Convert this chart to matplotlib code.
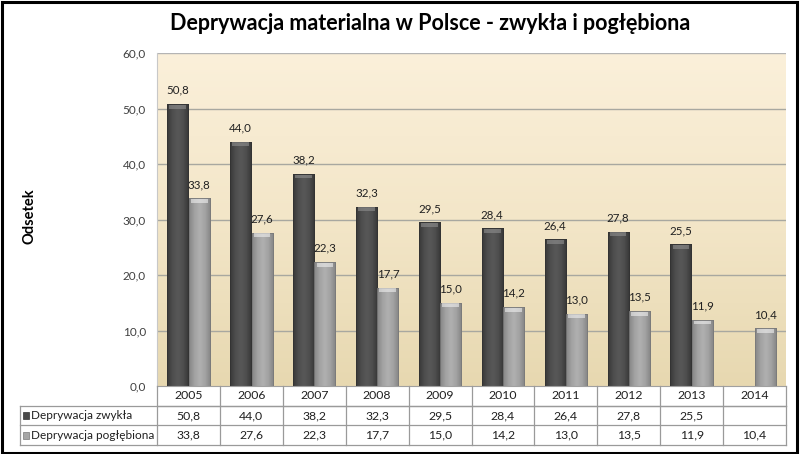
import numpy as np
import matplotlib
matplotlib.use("Agg")
import matplotlib.pyplot as plt
from matplotlib.colors import LinearSegmentedColormap
from matplotlib.patches import Rectangle
from matplotlib.lines import Line2D

plt.rcParams['font.family'] = ['Lato', 'DejaVu Sans']

# ---- data ----
years = ['2005', '2006', '2007', '2008', '2009', '2010', '2011', '2012', '2013', '2014']
zwykla = [50.8, 44.0, 38.2, 32.3, 29.5, 28.4, 26.4, 27.8, 25.5, np.nan]
poglebiona = [33.8, 27.6, 22.3, 17.7, 15.0, 14.2, 13.0, 13.5, 11.9, 10.4]
series_names = ['Deprywacja zwykła', 'Deprywacja pogłębiona']
title = 'Deprywacja materialna w Polsce - zwykła i pogłębiona'
ylabel = 'Odsetek'
yticks = [0, 10, 20, 30, 40, 50, 60]


def fmt(v):
    return '' if np.isnan(v) else f'{v:.1f}'.replace('.', ',')


W, H = 800, 454
fig = plt.figure(figsize=(W / 100, H / 100), dpi=100)
fig.patch.set_facecolor('white')

fig.add_artist(Rectangle((0.002, 0.003), 0.994, 0.993, transform=fig.transFigure,
                         fill=False, edgecolor='black', linewidth=2.2))

L, R, T, B = 157, 786, 53, 386
ax = fig.add_axes([L / W, 1 - B / H, (R - L) / W, (B - T) / H])

n = len(years)
x = np.arange(n)
bw = 0.335
off = 0.17

ax.set_xlim(-0.5, n - 0.5)
ax.set_ylim(0, 60)

bg = LinearSegmentedColormap.from_list('bg', ['#e7d8b0', '#f3e6c8', '#fbf0da'])
grad = np.linspace(0, 1, 256).reshape(-1, 1)
ax.imshow(grad, aspect='auto', cmap=bg, origin='lower',
          extent=[-0.5, n - 0.5, 0, 60], zorder=0)

for yt in yticks[1:-1]:
    ax.axhline(yt, color='#a8a8a0', linewidth=1.0, zorder=1)
ax.axhline(60, color='#b4b4b4', linewidth=1.0, zorder=1)

cmap_dark = LinearSegmentedColormap.from_list('d', ['#383838', '#4e4e4e', '#585858', '#4e4e4e', '#363636'])
cmap_light = LinearSegmentedColormap.from_list('l', ['#858585', '#a2a2a2', '#b0b0b0', '#a2a2a2', '#848484'])
hgrad = np.linspace(0, 1, 64).reshape(1, -1)


def draw_bars(xpos, vals, cmap, topcol, edge):
    bars = ax.bar(xpos, vals, width=bw, color='none', edgecolor=edge, linewidth=0.6, zorder=3)
    for b, v in zip(bars, vals):
        if np.isnan(v):
            continue
        x0, w, h = b.get_x(), b.get_width(), b.get_height()
        im = ax.imshow(hgrad, aspect='auto', cmap=cmap,
                       extent=[x0, x0 + w, 0, h], zorder=2)
        im.set_clip_path(b)
        ax.bar(x0 + w / 2, 0.7, bottom=h - 0.8, width=w * 0.8, color=topcol,
               edgecolor='none', zorder=4, alpha=0.6)
        ax.text(x0 + w / 2, h + 1.5, fmt(v), ha='center', va='bottom',
                fontsize=8.3, color='#202020', zorder=5)
    return bars


draw_bars(x - off, zwykla, cmap_dark, '#909090', '#333333')
draw_bars(x + off, poglebiona, cmap_light, '#f0f0f0', '#7a7a7a')

ax.set_yticks(yticks)
ax.set_yticklabels([f'{v:.1f}'.replace('.', ',') for v in yticks], fontsize=8.5, color='#404040')
ax.tick_params(axis='y', length=0, pad=8)
ax.set_xticks([])
for s in ['top', 'right']:
    ax.spines[s].set_visible(False)
ax.spines['left'].set_color('#c8c8c8')
ax.spines['bottom'].set_color('#a0a0a0')

fig.text(30 / W, 1 - 216 / H, ylabel, rotation=90, ha='center', va='center',
         fontsize=10.5, fontweight='bold', color='black')
fig.text(430 / W, 1 - 24 / H, title, ha='center', va='center',
         fontsize=15.5, fontweight='bold', color='black')

# ---- data table (drawn manually under the axes) ----
rh = 19.7 / (B - T) * 60
tbl_left = -0.5 - (L - 20) / (R - L) * n
lc = '#9a9a9a'
kw = dict(color=lc, linewidth=0.9, clip_on=False, zorder=10)
rows_y = [0, -rh, -2 * rh, -3 * rh]
ax.add_line(Line2D([-0.5, n - 0.5], [rows_y[1]] * 2, **kw))
ax.add_line(Line2D([tbl_left, n - 0.5], [rows_y[1]] * 2, **kw))
ax.add_line(Line2D([tbl_left, n - 0.5], [rows_y[2]] * 2, **kw))
ax.add_line(Line2D([tbl_left, n - 0.5], [rows_y[3]] * 2, **kw))
for k in range(n + 1):
    ax.add_line(Line2D([k - 0.5, k - 0.5], [0, rows_y[3]], **kw))
ax.add_line(Line2D([tbl_left, tbl_left], [rows_y[1], rows_y[3]], **kw))

fs = 8.8
for k, yr in enumerate(years):
    ax.text(k, -0.5 * rh, yr, ha='center', va='center', fontsize=fs, color='#202020', clip_on=False)
    for i, vals in enumerate([zwykla, poglebiona]):
        ax.text(k, -(i + 1.5) * rh, fmt(vals[k]), ha='center', va='center',
                fontsize=fs, color='#202020', clip_on=False)

key_cols = [('#4a4a4a', '#333333'), ('#a6a6a6', '#7a7a7a')]
for i, (name, (fc, ec)) in enumerate(zip(series_names, key_cols)):
    yc = -(i + 1.5) * rh
    ax.add_patch(Rectangle((tbl_left + 0.05, yc - 0.65), 0.1, 1.3,
                           facecolor=fc, edgecolor=ec, linewidth=0.5, clip_on=False, zorder=10))
    ax.text(tbl_left + 0.18, yc, name, ha='left', va='center', fontsize=8.5,
            color='#202020', clip_on=False)

fig.savefig('out.png', dpi=100, facecolor='white')
